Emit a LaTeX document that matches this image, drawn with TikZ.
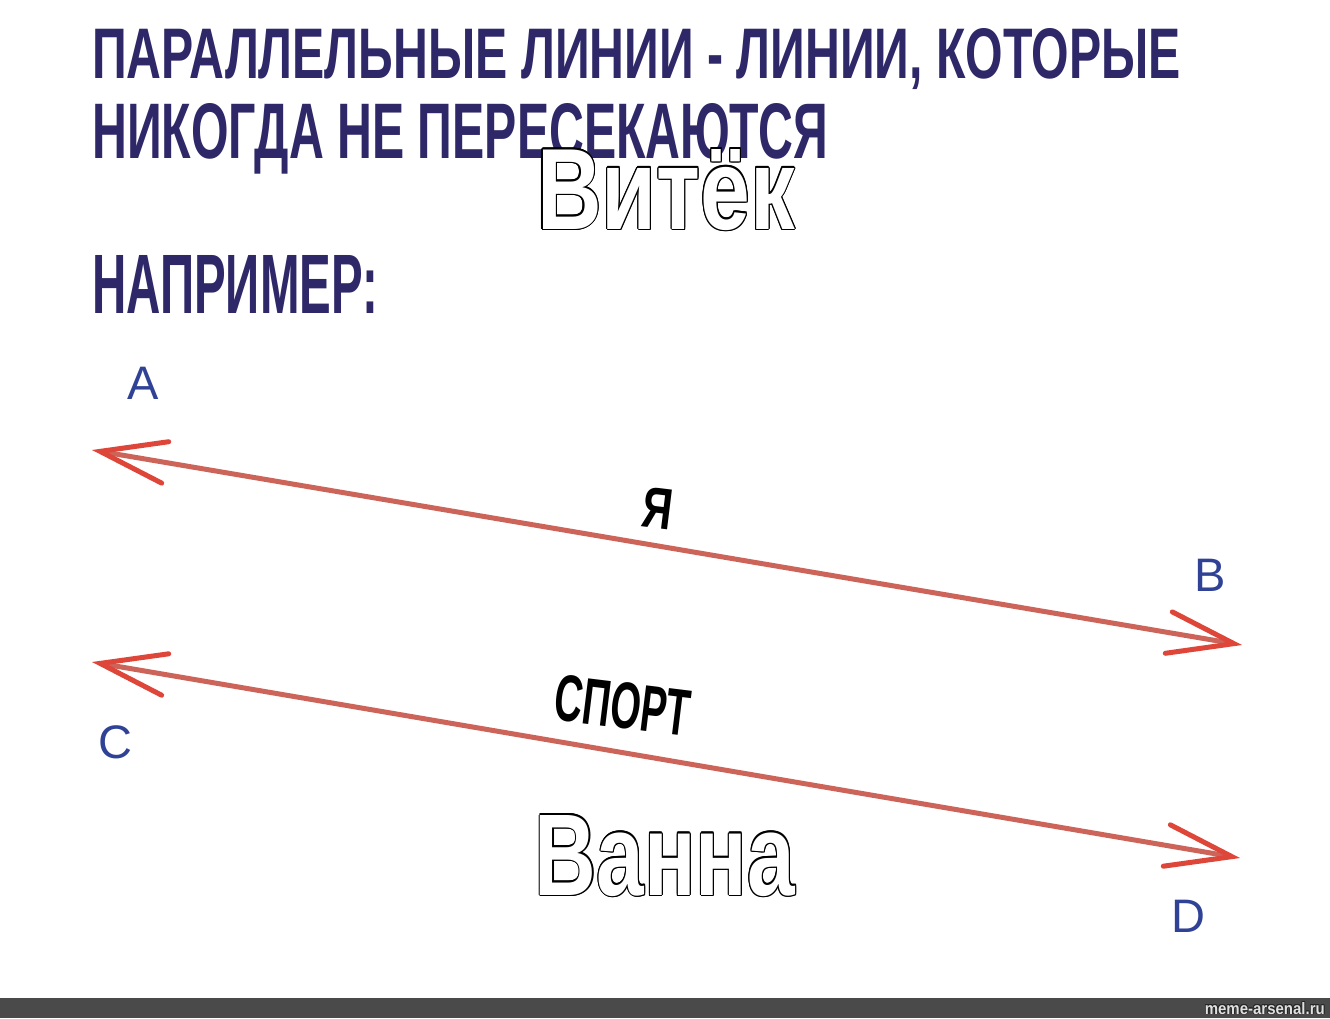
\documentclass[tikz,border=0pt]{standalone}
\usepackage{fontspec}
\setmainfont{Liberation Sans}
\usepackage{graphicx}
\usepackage[copies]{contour}
\usetikzlibrary{arrows.meta}
\definecolor{titleblue}{RGB}{46,40,104}
\definecolor{letterblue}{RGB}{48,66,150}
\definecolor{linered}{RGB}{205,100,90}
\definecolor{tipred}{RGB}{222,70,58}
\definecolor{bargray}{RGB}{74,74,74}
\contournumber{12}
\begin{document}
\begin{tikzpicture}[x=1pt,y=-1pt,
  title/.style={anchor=base west,inner sep=0pt,text=titleblue,font=\bfseries},
  outlined/.style={anchor=base,inner sep=0pt},
  caption/.style={anchor=base,inner sep=0pt,font=\bfseries,text=black,rotate=-7},
  ptlabel/.style={inner sep=0pt,text=letterblue,font=\fontsize{47}{47}\selectfont},
  arrowline/.style={draw=linered,line width=5pt,
    {Straight Barb[length=66pt,width=42pt,color=tipred,line cap=round]}-{Straight Barb[length=66pt,width=42pt,color=tipred,line cap=round]}}]
\useasboundingbox (0,0) rectangle (1330,1018);
\fill[white] (0,0) rectangle (1330,1018);
% title
\node[title] (t1) at (92,78) {\resizebox{1088pt}{50pt}{ПАРАЛЛЕЛЬНЫЕ ЛИНИИ - ЛИНИИ, КОТОРЫЕ}};
\node[title] (t2) at (92,158) {\resizebox{736pt}{55pt}{НИКОГДА НЕ ПЕРЕСЕКАЮТСЯ}};
\node[title] (t3) at (92,313) {\resizebox{286pt}{58pt}{НАПРИМЕР:}};
% lines
\coordinate (A0) at (92,450);
\coordinate (B0) at (1242,645);
\coordinate (C0) at (92,662);
\coordinate (D0) at (1240,858);
\draw[arrowline] (A0) -- (B0);
\draw[arrowline] (C0) -- (D0);
% point labels
\node[ptlabel] (A) at (143,383) {A};
\node[ptlabel] (B) at (1210,575) {B};
\node[ptlabel] (C) at (115,742) {C};
\node[ptlabel] (D) at (1188,916) {D};
% captions
\node[outlined] (vitek) at (666,229) {\resizebox{258pt}{80pt}{\fontsize{100}{100}\selectfont\bfseries\contourlength{1.3pt}\contour{black}{\textcolor{white}{Витёк}}}};
\node[caption] (ya) at (655,528) {\resizebox{30pt}{40pt}{Я}};
\node[caption] (sport) at (620,728) {\resizebox{136pt}{46pt}{СПОРТ}};
\node[outlined] (vanna) at (665,895) {\resizebox{260pt}{80pt}{\fontsize{100}{100}\selectfont\bfseries\contourlength{1.3pt}\contour{black}{\textcolor{white}{Ванна}}}};
% bottom bar
\fill[bargray] (0,998) rectangle (1330,1018);
\node[anchor=base east,inner sep=0pt] (wm) at (1325,1014) {\resizebox{120pt}{12pt}{\fontsize{12}{12}\selectfont\bfseries\contourlength{0.6pt}\contour{black!85}{\textcolor{black!12}{meme-arsenal.ru}}}};
\end{tikzpicture}
\end{document}
